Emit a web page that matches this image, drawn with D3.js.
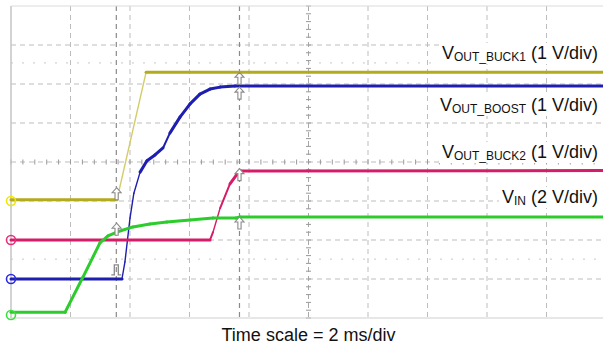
<!DOCTYPE html>
<html>
<head>
<meta charset="utf-8">
<script src="https://cdn.jsdelivr.net/npm/d3@7"></script>
<style>
  html, body { margin: 0; padding: 0; background: #fff; }
  svg { display: block; font-family: "Liberation Sans", Arial, Helvetica, sans-serif; }
</style>
</head>
<body>
<svg id="scope" width="603" height="349"></svg>
<script>
// Power-up sequence captured on a 4-channel scope: 2 ms/div, 10 x 8 divisions.

// Channel names, vertical scale (V/div) and ground offset (div from centre)
const channelNames  = ["OUT_BUCK1", "OUT_BOOST", "OUT_BUCK2", "IN"];
const channelVdiv   = [1, 1, 1, 2];
const channelOffset = [-1, -3, -2, -4];
const channelColors = ["#b2ab1c", "#1e1eb0", "#d61c68", "#2ccc2c"];
const markerColors  = ["#f2e600", "#2a2ae6", "#e8307a", "#3ce03c"];

// Trace samples: time in ms, voltage in V
const buck1T = [0, 3.56, 4.54, 20];
const buck1V = [0.03, 0.03, 3.3, 3.3];

const boostT = [0, 3.73, 3.83, 4.0, 4.13, 4.34, 4.57, 4.84, 5.11, 5.34, 5.68, 6.02, 6.35, 6.69, 7.03, 7.53, 20];
const boostV = [0, 0, 0.44, 1.56, 2.2, 2.74, 3.03, 3.18, 3.36, 3.74, 4.15, 4.49, 4.74, 4.87, 4.92, 4.95, 4.95];

const buck2T = [0, 6.69, 6.79, 7.03, 7.36, 7.6, 7.73, 20];
const buck2V = [0, 0, 0.2, 0.82, 1.44, 1.69, 1.77, 1.78];

const vinT = [0, 1.82, 2.42, 2.99, 3.26, 3.56, 4.1, 4.67, 5.24, 6.02, 6.79, 7.56, 7.7, 20];
const vinV = [0.3, 0.3, 2.1, 3.85, 4.21, 4.41, 4.67, 4.82, 4.92, 5.03, 5.13, 5.13, 5.18, 5.18];

const traceTimes = [buck1T, boostT, buck2T, vinT];
const traceVolts = [buck1V, boostV, buck2V, vinV];

// Label text per channel (main part + subscript + scale)
const labelMain  = ["V", "V", "V", "V"];
const labelSub   = ["OUT_BUCK1", "OUT_BOOST", "OUT_BUCK2", "IN"];
const labelScale = [" (1 V/div)", " (1 V/div)", " (1 V/div)", " (2 V/div)"];
const labelDiv   = [2.64, 1.31, 0.1, -1.05];   // baseline level, in divisions

// Cursor positions
const cursorTimes = [3.54, 7.68];   // ms
const cursorLevels = [2.54, -2.49]; // divisions

// Cursor arrow markers: [time ms, tip level in divisions, kind]
const markerT    = [3.55, 3.55, 3.54, 7.68, 7.68, 7.68, 7.68];
const markerDiv  = [-0.66, -1.57, -2.64, 2.30, 1.92, -0.17, -1.41];
const markerKind = ["arrow", "arrow", "pulse", "arrow", "arrow", "arrow", "arrow"];

const timeCaption = "Time scale = 2 ms/div";

// ---------------------------------------------------------------
const svg = d3.select("#scope");
const x = d3.scaleLinear().domain([0, 20]).range([11, 606]);
const y = d3.scaleLinear().domain([-4, 4]).range([318, 6]);

const grid = svg.append("g");

// major graticule
grid.selectAll("line.v").data(d3.range(2, 20, 2)).join("line")
  .attr("x1", d => x(d)).attr("x2", d => x(d))
  .attr("y1", y(4)).attr("y2", y(-4))
  .attr("stroke", d => d === 10 ? "#a8a8a8" : "#bdbdbd")
  .attr("stroke-width", 1)
  .attr("stroke-dasharray", "5,4");

grid.selectAll("line.h").data(d3.range(-3, 4, 1)).join("line")
  .attr("x1", x(0)).attr("x2", x(20))
  .attr("y1", d => y(d)).attr("y2", d => y(d))
  .attr("stroke", "#bdbdbd")
  .attr("stroke-width", 1)
  .attr("stroke-dasharray", "5,4");

// minor ticks on the centre lines
grid.selectAll("line.mx").data(d3.range(0, 20.01, 0.4)).join("line")
  .attr("x1", d => x(d)).attr("x2", d => x(d))
  .attr("y1", y(0) - 2.5).attr("y2", y(0) + 2.5)
  .attr("stroke", "#999");
grid.selectAll("line.my").data(d3.range(-4, 4.01, 0.2)).join("line")
  .attr("x1", x(10) - 2.5).attr("x2", x(10) + 2.5)
  .attr("y1", d => y(d)).attr("y2", d => y(d))
  .attr("stroke", "#999");

// level cursors
grid.selectAll("line.lc").data(cursorLevels).join("line")
  .attr("x1", x(0)).attr("x2", x(20))
  .attr("y1", d => y(d)).attr("y2", d => y(d))
  .attr("stroke", "#c8c8c8")
  .attr("stroke-dasharray", "2,9");

// time cursors
grid.selectAll("line.tc").data(cursorTimes).join("line")
  .attr("x1", d => x(d)).attr("x2", d => x(d))
  .attr("y1", y(4)).attr("y2", y(-4))
  .attr("stroke", "#8a8a8a")
  .attr("stroke-width", 1.2)
  .attr("stroke-dasharray", "5,4");

// frame
grid.append("line").attr("x1", x(0)).attr("x2", x(0)).attr("y1", y(4)).attr("y2", y(-4))
  .attr("stroke", "#c4c4c4").attr("stroke-width", 1.5);
grid.append("line").attr("x1", x(0)).attr("x2", 603).attr("y1", y(4)).attr("y2", y(4))
  .attr("stroke", "#dcdcdc").attr("stroke-width", 1.2);
grid.append("line").attr("x1", x(0)).attr("x2", 603).attr("y1", y(-4)).attr("y2", y(-4))
  .attr("stroke", "#cfcfcf").attr("stroke-width", 1.2);

// traces, drawn segment by segment so that fast edges render thinner
const traces = svg.append("g");
traceTimes.forEach((ts, c) => {
  const pts = ts.map((t, i) => [x(t), y(channelOffset[c] + traceVolts[c][i] / channelVdiv[c])]);
  const g = traces.append("g");
  for (let i = 0; i < pts.length - 1; i++) {
    const [x0, y0] = pts[i], [x1, y1] = pts[i + 1];
    const slope = Math.abs((y1 - y0) / Math.max(x1 - x0, 0.01));
    let w = 3;
    if (slope > 3.2) w = 1.4; else if (slope > 2.1) w = 2.0;
    let col = channelColors[c];
    if (c === 0 && slope > 3.2) col = "#d2cc6a";
    g.append("path")
      .attr("d", d3.line()([pts[i], pts[i + 1]]))
      .attr("fill", "none")
      .attr("stroke", col)
      .attr("stroke-width", w)
      .attr("stroke-linecap", "round");
  }
});

// channel ground markers
svg.append("g").selectAll("circle").data(channelOffset).join("circle")
  .attr("cx", x(0))
  .attr("cy", (d, i) => i === 3 ? y(d) - 3 : y(d))
  .attr("r", 4.5)
  .attr("fill", "none")
  .attr("stroke", (d, i) => markerColors[i])
  .attr("stroke-width", 1.6);

// cursor markers
const mk = svg.append("g");
markerT.forEach((t, i) => {
  const cx = x(t), ty = y(markerDiv[i]);
  if (markerKind[i] === "arrow") {
    const p = `M${cx},${ty} L${cx + 4.5},${ty + 5} L${cx + 1.6},${ty + 5} L${cx + 1.6},${ty + 12} ` +
              `L${cx - 1.6},${ty + 12} L${cx - 1.6},${ty + 5} L${cx - 4.5},${ty + 5} Z`;
    mk.append("path").attr("d", p).attr("fill", "#fff").attr("stroke", "#8a8a8a").attr("stroke-width", 1.1);
  } else {
    const p = `M${cx - 5},${ty + 10} L${cx - 2},${ty + 10} L${cx - 2},${ty} L${cx + 2},${ty} L${cx + 2},${ty + 10} L${cx + 5},${ty + 10}`;
    mk.append("path").attr("d", p).attr("fill", "none").attr("stroke", "#8a8a8a").attr("stroke-width", 1.3);
  }
});

// channel labels with white backing
const labels = svg.append("g");
labelMain.forEach((m, i) => {
  const g = labels.append("g");
  const t = g.append("text")
    .attr("x", 598).attr("y", y(labelDiv[i]))
    .attr("text-anchor", "end")
    .attr("font-size", 18)
    .attr("fill", "#111");
  t.append("tspan").text(m);
  t.append("tspan").attr("font-size", 12).attr("dy", 2).text(labelSub[i]);
  t.append("tspan").attr("dy", -2).text(labelScale[i]);
  const bb = t.node().getBBox();
  g.insert("rect", "text")
    .attr("x", bb.x - 3).attr("y", bb.y).attr("width", bb.width + 8).attr("height", bb.height)
    .attr("fill", "#fff");
});

svg.append("text")
  .attr("x", x(10)).attr("y", 341)
  .attr("text-anchor", "middle")
  .attr("font-size", 18)
  .attr("fill", "#111")
  .text(timeCaption);
</script>
</body>
</html>
